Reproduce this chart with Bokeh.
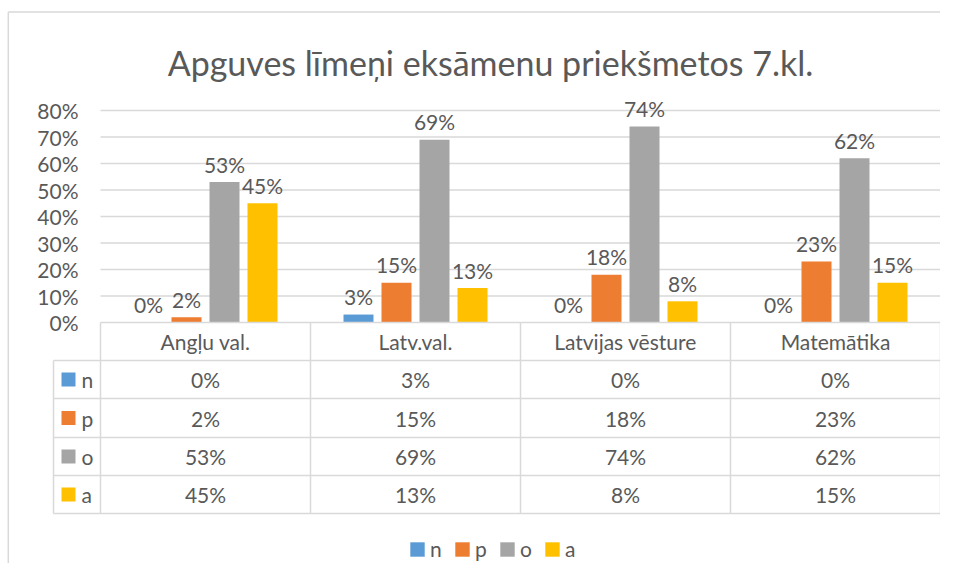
from bokeh.plotting import figure
from bokeh.models import Range1d, Legend, LegendItem, ColumnDataSource
from bokeh.core.properties import value
from bokeh.embed import file_html
from bokeh.resources import INLINE

# ---- data ----
categories = ["Angļu val.", "Latv.val.", "Latvijas vēsture", "Matemātika"]
series_names = ["n", "p", "o", "a"]
n_vals = [0, 3, 0, 0]
p_vals = [2, 15, 18, 23]
o_vals = [53, 69, 74, 62]
a_vals = [45, 13, 8, 15]
y_ticks = [0, 10, 20, 30, 40, 50, 60, 70, 80]
title_text = "Apguves līmeņi eksāmenu priekšmetos 7.kl."

colors = ["#5B9BD5", "#ED7D31", "#A5A5A5", "#FFC000"]
series_vals = [n_vals, p_vals, o_vals, a_vals]
TXT = "#595959"
GRID = "#D9D9D9"
FONT = value("Lato")
FS = "21px"

# ---- layout (picture pixels) ----
W, H = 940, 563
PX0, PXW = 100.0, 210.0      # x=0 at px 100, one category = 210 px
PY0, PYK = 322.0, 2.65       # y=0 at px 322, 1% = 2.65 px

def X(px):
    return (px - PX0) / PXW

def Y(py):
    return (PY0 - py) / PYK

p = figure(width=W, height=H, output_backend="svg", toolbar_location=None,
           x_axis_type=None, y_axis_type=None,
           x_range=Range1d(X(0), X(W)), y_range=Range1d(Y(H), Y(0)),
           min_border=0, outline_line_color=None)
p.grid.visible = False
p.background_fill_color = "white"

# chart border (top & left visible)
p.segment(x0=[X(7.8), X(7.8)], y0=[Y(11.5), Y(11.5)], x1=[X(7.8), X(W)], y1=[Y(H), Y(11.5)],
          line_color=GRID, line_width=1.5)

# gridlines
p.segment(x0=[0] * (len(y_ticks) - 1), x1=[len(categories)] * (len(y_ticks) - 1),
          y0=y_ticks[1:], y1=y_ticks[1:], line_color=GRID, line_width=1.3)

# y tick labels
p.text(x=[X(78)] * len(y_ticks), y=y_ticks, text=[f"{t}%" for t in y_ticks],
       text_align="right", text_baseline="middle", text_color=TXT,
       text_font=FONT, text_font_size=FS)

# bars
bar_w = 30 / PXW
step = 38 / PXW
offsets = [-1.5 * step, -0.5 * step, 0.5 * step, 1.5 * step]
renderers = []
for k, (name, vals, col) in enumerate(zip(series_names, series_vals, colors)):
    xs = [i + 0.5 + offsets[k] for i in range(len(categories))]
    src = ColumnDataSource(dict(x=xs, top=vals, lab=[f"{v}%" for v in vals]))
    r = p.vbar(x="x", top="top", bottom=0, width=bar_w, source=src,
               fill_color=col, line_color=None)
    renderers.append(r)
    p.text(x="x", y="top", text="lab", source=src, y_offset=-18,
           text_align="center", text_baseline="alphabetic", text_color=TXT,
           text_font=FONT, text_font_size=FS)

# ---- data table ----
rows_px = [322, 360, 398, 437, 475, 513]
rows = [Y(v) for v in rows_px]
left_col = X(53)
ncat = len(categories)
p.segment(x0=[0], x1=[ncat], y0=[rows[0]], y1=[rows[0]], line_color=GRID, line_width=1.5)
p.segment(x0=[left_col] * 5, x1=[ncat] * 5, y0=rows[1:], y1=rows[1:],
          line_color=GRID, line_width=1.5)
p.segment(x0=list(range(ncat + 1)), x1=list(range(ncat + 1)),
          y0=[rows[0]] * (ncat + 1), y1=[rows[-1]] * (ncat + 1),
          line_color=GRID, line_width=1.5)
p.segment(x0=[left_col], x1=[left_col], y0=[rows[1]], y1=[rows[-1]],
          line_color=GRID, line_width=1.5)

row_mid = [(rows[i] + rows[i + 1]) / 2 for i in range(5)]
p.text(x=[i + 0.5 for i in range(ncat)], y=[row_mid[0]] * ncat, text=categories,
       text_align="center", text_baseline="middle", text_color=TXT,
       text_font=FONT, text_font_size=FS)
for k, (name, vals, col) in enumerate(zip(series_names, series_vals, colors)):
    ym = row_mid[k + 1]
    p.text(x=[i + 0.5 for i in range(ncat)], y=[ym] * ncat, text=[f"{v}%" for v in vals],
           text_align="center", text_baseline="middle", text_color=TXT,
           text_font=FONT, text_font_size=FS)
    p.rect(x=[X(68)], y=[ym], width=14 / PXW, height=14 / PYK, fill_color=col, line_color=None)
    p.text(x=[X(81)], y=[ym], text=[name], text_align="left", text_baseline="middle",
           text_color=TXT, text_font=FONT, text_font_size=FS)

# title
p.text(x=[X(490)], y=[Y(62)], text=[title_text], text_align="center", text_baseline="middle",
       text_color=TXT, text_font=FONT, text_font_size="34px")

# bottom legend
legend = Legend(items=[LegendItem(label=nm, renderers=[r]) for nm, r in zip(series_names, renderers)],
                orientation="horizontal", location=(408, 2),
                glyph_width=18, glyph_height=18, label_height=14, label_width=12,
                label_standoff=4, spacing=11, padding=0, margin=0,
                border_line_color=None, background_fill_alpha=0,
                label_text_font="Lato", label_text_font_size=FS, label_text_color=TXT)
p.add_layout(legend, "center")

open("out.html", "w").write(file_html(p, INLINE))
